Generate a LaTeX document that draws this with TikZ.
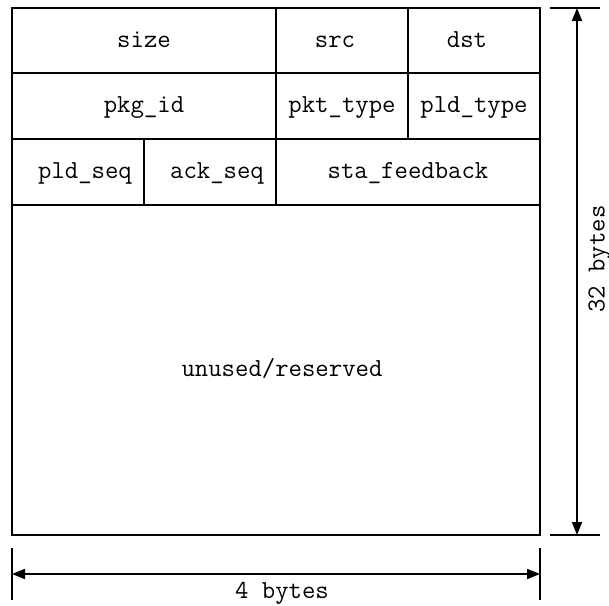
\documentclass[tikz,border=0pt]{standalone}
\usepackage{fontspec}
\usetikzlibrary{arrows.meta}
\tikzset{
  cell/.style={draw, line width=2pt, inner sep=0pt, text height=16pt, text depth=3pt, font=\ttfamily\fontsize{26}{30}\selectfont},
  dimline/.style={line width=2pt},
  dimarrow/.style={line width=2pt, {Triangle[length=13pt,width=10pt]}-{Triangle[length=13pt,width=10pt]}},
  dimlabel/.style={inner sep=0pt, text height=16pt, text depth=5pt, font=\ttfamily\fontsize{26}{30}\selectfont}
}
\begin{document}
\begin{tikzpicture}[x=1pt,y=-1pt]
\useasboundingbox (0,0) rectangle (609,605);
% row 1
\node[cell, minimum width=264pt, minimum height=65pt] (size) at (144,40.5) {size};
\node[cell, minimum width=132pt, minimum height=65pt] (src) at (342,40.5) {\hspace*{-14pt}src};
\node[cell, minimum width=132pt, minimum height=65pt] (dst) at (474,40.5) {\hspace*{-14pt}dst};
% row 2
\node[cell, minimum width=264pt, minimum height=66pt] (pkgid) at (144,106) {pkg\_id};
\node[cell, minimum width=132pt, minimum height=66pt] (pkttype) at (342,106) {pkt\_type};
\node[cell, minimum width=132pt, minimum height=66pt] (pldtype) at (474,106) {pld\_type};
% row 3
\node[cell, minimum width=132pt, minimum height=66pt] (pldseq) at (78,172) {\hspace*{14pt}pld\_seq};
\node[cell, minimum width=132pt, minimum height=66pt] (ackseq) at (210,172) {\hspace*{14pt}ack\_seq};
\node[cell, minimum width=264pt, minimum height=66pt] (stafb) at (408,172) {sta\_feedback};
% row 4
\node[cell, minimum width=528pt, minimum height=330pt] (unused) at (276,370) {\hspace*{12pt}unused/reserved};
% right dimension
\coordinate (rt1) at (550,8); \coordinate (rt2) at (600,8);
\coordinate (rb1) at (550,535); \coordinate (rb2) at (600,535);
\coordinate (ra) at (577,8); \coordinate (rb) at (577,535);
\draw[dimline] (rt1) -- (rt2);
\draw[dimline] (rb1) -- (rb2);
\draw[dimarrow] (ra) -- (rb);
\node[dimlabel, rotate=90] (h) at (599,259) {32 bytes};
% bottom dimension
\coordinate (bl1) at (12,548); \coordinate (bl2) at (12,600);
\coordinate (br1) at (540,548); \coordinate (br2) at (540,600);
\coordinate (ba) at (12,574); \coordinate (bb) at (540,574);
\draw[dimline] (bl1) -- (bl2);
\draw[dimline] (br1) -- (br2);
\draw[dimarrow] (ba) -- (bb);
\node[dimlabel] (w) at (282,593) {4 bytes};
\end{tikzpicture}
\end{document}
